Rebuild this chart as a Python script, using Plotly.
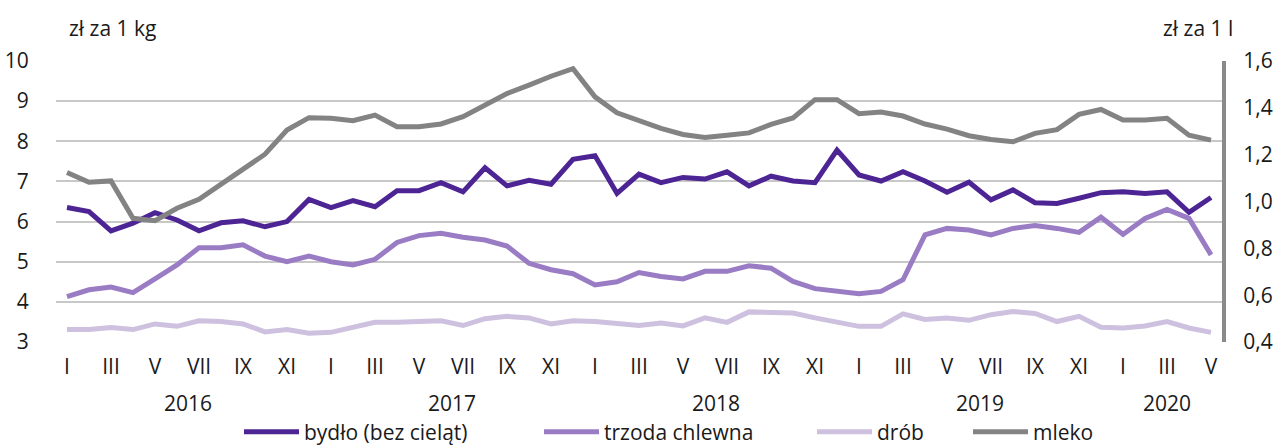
import plotly.graph_objects as go

years = [2016] * 12 + [2017] * 12 + [2018] * 12 + [2019] * 12 + [2020] * 5
months = list(range(1, 13)) * 4 + [1, 2, 3, 4, 5]
roman = ["I", "II", "III", "IV", "V", "VI", "VII", "VIII", "IX", "X", "XI", "XII"]
year_labels = ["2016", "2017", "2018", "2019", "2020"]

bydlo = [6.35, 6.25, 5.77, 5.96, 6.22, 6.04, 5.77, 5.97, 6.02, 5.87, 6.00, 6.55,
         6.35, 6.52, 6.37, 6.77, 6.77, 6.97, 6.74, 7.34, 6.89, 7.03, 6.93, 7.55,
         7.64, 6.70, 7.18, 6.97, 7.10, 7.06, 7.24, 6.89, 7.13, 7.01, 6.97, 7.78,
         7.16, 7.01, 7.24, 7.01, 6.73, 6.98, 6.54, 6.79, 6.47, 6.45, 6.58, 6.72,
         6.74, 6.70, 6.74, 6.23, 6.60]
trzoda = [4.13, 4.30, 4.37, 4.23, 4.57, 4.92, 5.35, 5.35, 5.42, 5.14, 5.00, 5.14,
          5.00, 4.92, 5.06, 5.48, 5.65, 5.71, 5.61, 5.54, 5.39, 4.96, 4.80, 4.70,
          4.42, 4.50, 4.73, 4.63, 4.57, 4.76, 4.76, 4.90, 4.84, 4.51, 4.33, 4.27,
          4.20, 4.26, 4.55, 5.67, 5.83, 5.79, 5.67, 5.83, 5.90, 5.83, 5.73, 6.11,
          5.68, 6.08, 6.30, 6.08, 5.17]
drob = [3.31, 3.31, 3.36, 3.31, 3.45, 3.39, 3.53, 3.51, 3.45, 3.25, 3.31, 3.22,
        3.24, 3.35, 3.49, 3.49, 3.52, 3.53, 3.41, 3.58, 3.64, 3.60, 3.45, 3.53,
        3.51, 3.45, 3.41, 3.47, 3.40, 3.60, 3.49, 3.75, 3.75, 3.72, 3.60, 3.51,
        3.39, 3.39, 3.70, 3.56, 3.60, 3.54, 3.68, 3.76, 3.71, 3.51, 3.64, 3.37,
        3.35, 3.40, 3.51, 3.35, 3.24]
mleko = [1.124, 1.082, 1.088, 0.928, 0.918, 0.971, 1.009, 1.073, 1.137, 1.202, 1.305, 1.358,
         1.355, 1.345, 1.369, 1.319, 1.319, 1.331, 1.362, 1.414, 1.461, 1.497, 1.535, 1.567,
         1.447, 1.379, 1.345, 1.312, 1.286, 1.273, 1.283, 1.293, 1.329, 1.357, 1.435, 1.435,
         1.375, 1.382, 1.365, 1.331, 1.309, 1.281, 1.265, 1.255, 1.291, 1.307, 1.372, 1.393,
         1.348, 1.348, 1.355, 1.283, 1.262]

x = list(range(len(months)))
FONT = "Open Sans"
FS = 21
W, H = 1275, 448
L, R, T, B = 56, 53, 61, 106
PW, PH = W - L - R, H - T - B
ITEMW = 55

series = [
    ("bydło (bez cieląt)", bydlo, "#4d2494", "y", "legend", 304),
    ("trzoda chlewna", trzoda, "#9a7cc4", "y", "legend2", 604),
    ("drób", drob, "#cdc1df", "y", "legend3", 877),
    ("mleko", mleko, "#838383", "y2", "legend4", 1033),
]

fig = go.Figure()
legends = {}
for name, vals, col, ax, lg, text_x in series:
    fig.add_trace(go.Scatter(x=x, y=vals, name=name, mode="lines",
                             line=dict(color=col, width=5), yaxis=ax, legend=lg))
    legends[lg] = dict(orientation="h", x=(text_x - ITEMW - 10 - L) / PW, xanchor="left",
                       y=-90 / PH, yanchor="middle", font=dict(size=FS), itemwidth=ITEMW,
                       bgcolor="rgba(0,0,0,0)", borderwidth=0)

tickvals = [i for i in x if months[i] % 2 == 1]
ticktext = [roman[months[i] - 1] for i in tickvals]

fig.update_layout(
    width=W, height=H,
    margin=dict(l=L, r=R, t=T, b=B, autoexpand=False),
    paper_bgcolor="white", plot_bgcolor="white",
    font=dict(family=FONT, size=FS, color="#1a1a1a"),
    separators=", ",
    xaxis=dict(range=[-0.5, len(x) - 0.5], tickvals=tickvals, ticktext=ticktext,
               showgrid=False, zeroline=False, showline=False, automargin=False,
               ticks="outside", ticklen=6, tickcolor="rgba(0,0,0,0)"),
    yaxis=dict(range=[3, 10], dtick=1, showgrid=True, gridcolor="#c8c8c8", gridwidth=2,
               zeroline=False, showline=False, automargin=False, ticks="outside", ticklen=22,
               tickcolor="rgba(0,0,0,0)"),
    yaxis2=dict(range=[0.4, 1.6], dtick=0.2, tickformat=".1f", overlaying="y", side="right",
                showgrid=False, zeroline=False, showline=True, linecolor="#8a8a8a", linewidth=4,
                automargin=False, ticks="outside", ticklen=13, tickcolor="rgba(0,0,0,0)"),
    showlegend=True,
    **legends,
)

# year labels centred under each year's months
for yl in year_labels:
    idx = [i for i in x if str(years[i]) == yl]
    fig.add_annotation(x=(idx[0] + idx[-1]) / 2, y=0, xref="x", yref="paper",
                       yshift=-61, yanchor="middle", text=yl, showarrow=False,
                       font=dict(size=FS))

fig.add_annotation(x=0, y=1, xref="paper", yref="paper", xshift=11, yshift=33,
                   xanchor="left", yanchor="middle", text="zł za 1 kg", showarrow=False)
fig.add_annotation(x=1, y=1, xref="paper", yref="paper", xshift=13, yshift=33,
                   xanchor="right", yanchor="middle", text="zł za 1 l", showarrow=False)

# the page body has a default 8px margin; remove it so the 1275x448 figure fills the window
fig.write_html("out.html", config={"displayModeBar": False},
               post_script="document.body.style.margin='0';")
